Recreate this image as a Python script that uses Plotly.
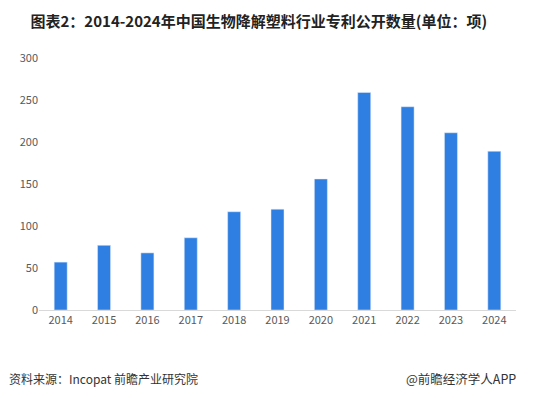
import plotly.graph_objects as go

years = ["2014", "2015", "2016", "2017", "2018", "2019", "2020", "2021", "2022", "2023", "2024"]
patents = [57, 77, 68, 86, 117, 120, 156, 259, 242, 211, 189]
y_ticks = [0, 50, 100, 150, 200, 250, 300]

title_text = "图表2：2014-2024年中国生物降解塑料行业专利公开数量(单位：项)"
source_text = "资料来源：Incopat 前瞻产业研究院"
brand_text = "@前瞻经济学人APP"

fig = go.Figure(go.Bar(x=years, y=patents, marker_color="#2F7FE2", width=0.3))

fig.update_layout(
    width=546, height=398,
    margin=dict(l=39, r=30, t=58, b=88),
    paper_bgcolor="white", plot_bgcolor="white",
    font=dict(family="Noto Sans CJK SC, sans-serif", color="#595959", size=11),
    showlegend=False,
    title=dict(text="<b>" + title_text + "</b>", x=0.474, xanchor="center", y=0.945, yanchor="middle",
               font=dict(size=15, color="#222222")),
    xaxis=dict(showline=True, linecolor="#D9D9D9", linewidth=1, ticks="", showgrid=False,
               tickfont=dict(size=11, color="#595959")),
    yaxis=dict(range=[0, 300], tickvals=y_ticks, showgrid=False, zeroline=False, showline=False,
               ticks="", tickfont=dict(size=11, color="#595959")),
)
fig.add_annotation(text=source_text, xref="paper", yref="paper", x=-0.067, xanchor="left",
                   y=-0.27, yanchor="middle", showarrow=False, font=dict(size=12, color="#333333"))
fig.add_annotation(text=brand_text, xref="paper", yref="paper", x=1.005, xanchor="right",
                   y=-0.27, yanchor="middle", showarrow=False, font=dict(size=12.5, color="#333333"))

fig.write_html("out.html", config={"displayModeBar": False},
               post_script="document.body.style.margin='0';")
